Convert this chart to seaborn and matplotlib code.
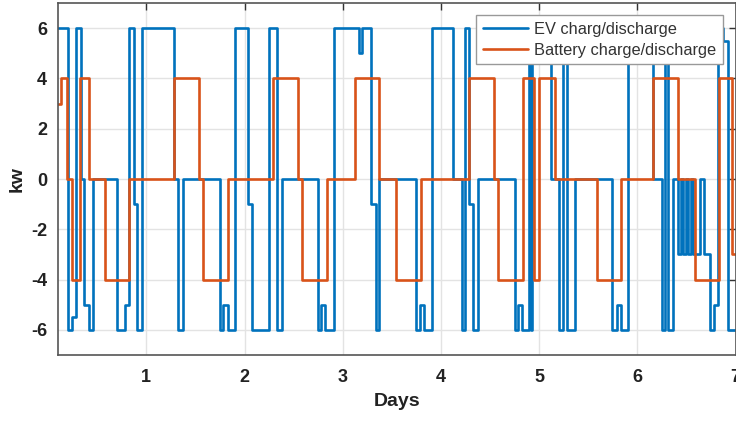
import matplotlib
matplotlib.use("Agg")
import matplotlib.pyplot as plt
import seaborn as sns
import pandas as pd

# EV charge/discharge (step changes: day, kW)
ev_days = [0.100, 0.205, 0.242, 0.283, 0.331, 0.368, 0.416, 0.453, 0.701, 0.782,
           0.826, 0.877, 0.908, 0.952, 1.285, 1.325, 1.376, 1.750, 1.784, 1.835,
           1.903, 2.038, 2.073, 2.252, 2.328, 2.379, 2.745, 2.779, 2.820, 2.914,
           3.166, 3.200, 3.288, 3.339, 3.373, 3.744, 3.787, 3.828, 3.913, 4.126,
           4.212, 4.246, 4.290, 4.330, 4.375, 4.755, 4.789, 4.826, 4.901, 4.918,
           4.931, 5.122, 5.206, 5.247, 5.282, 5.366, 5.740, 5.791, 5.830, 5.909,
           6.161, 6.249, 6.283, 6.317, 6.367, 6.417, 6.442, 6.468, 6.493, 6.519,
           6.544, 6.570, 6.639, 6.675, 6.736, 6.785, 6.820, 6.874, 6.925, 7.000]
ev_kw = [6, -6, -5.5, 6, 0, -5, -6, 0, -6, -5,
         6, -1, -6, 6, 0, -6, 0, -6, -5, -6,
         6, -1, -6, 6, -6, 0, -6, -5, -6, 6,
         5, 6, -1, -6, 0, -6, -5, -6, 6, 0,
         -6, 6, -1, -6, 0, -6, -5, -6, 6, -6,
         6, 0, -6, 6, -6, 0, -6, -5, -6, 6,
         0, -6, 6, -6, 0, -3, 0, -3, 0, -3,
         0, -3, 0, -3, -6, -5, 6, 5.5, -6, -6]

# Battery charge/discharge (step changes: day, kW)
batt_days = [0.100, 0.130, 0.188, 0.239, 0.324, 0.419, 0.579, 0.826, 1.285, 1.539,
             1.574, 1.835, 2.293, 2.548, 2.582, 2.837, 3.125, 3.373, 3.543, 3.794,
             4.286, 4.541, 4.582, 4.837, 4.943, 4.999, 5.162, 5.593, 5.832, 6.164,
             6.415, 6.589, 6.833, 6.960, 7.000]
batt_kw = [3, 4, 0, -4, 4, 0, -4, 0, 4, 0,
           -4, 0, 4, 0, -4, 0, 4, 0, -4, 0,
           4, 0, -4, 4, -4, 4, 0, -4, 0, 4,
           0, -4, 4, -3, -3]

x_ticks = [1, 2, 3, 4, 5, 6, 7]
y_ticks = [-6, -4, -2, 0, 2, 4, 6]
labels = ["EV charg/discharge", "Battery charge/discharge"]

sns.set_theme(style="whitegrid")
plt.rcParams["font.family"] = ["Liberation Sans", "DejaVu Sans"]

fig = plt.figure(figsize=(7.36, 4.24), dpi=100)
ax = fig.add_axes([58 / 736, 1 - 355 / 424, (735.5 - 58) / 736, (355 - 3) / 424])

ev_df = pd.DataFrame({"day": ev_days, "kw": ev_kw})
batt_df = pd.DataFrame({"day": batt_days, "kw": batt_kw})

sns.lineplot(data=ev_df, x="day", y="kw", ax=ax, color="#0072BD", lw=1.9,
             drawstyle="steps-post", sort=False, estimator=None, label=labels[0])
sns.lineplot(data=batt_df, x="day", y="kw", ax=ax, color="#D95319", lw=1.9,
             drawstyle="steps-post", sort=False, estimator=None, label=labels[1])

ax.set_xlim(0.1, 7)
ax.set_ylim(-7, 7)
ax.set_xticks(x_ticks)
ax.set_yticks(y_ticks)
ax.set_xticklabels([str(t) for t in x_ticks])
ax.set_yticklabels([str(t) for t in y_ticks])
ax.grid(True, color="#e3e3e3", lw=1.0)
ax.tick_params(direction="in", length=5, width=1, color="#333333",
               top=True, right=True, labelsize=13, labelcolor="#222222")
ax.tick_params(axis="x", pad=10)
ax.tick_params(axis="y", pad=8)
for lab in ax.get_xticklabels() + ax.get_yticklabels():
    lab.set_fontweight("bold")
for sp in ax.spines.values():
    sp.set_color("#555555")
    sp.set_linewidth(1.2)

ax.set_xlabel("Days", fontsize=14, fontweight="bold", color="#222222", labelpad=5)
ax.set_ylabel("kw", fontsize=14, fontweight="bold", color="#222222", labelpad=4)

leg = ax.legend(loc="upper right", bbox_to_anchor=((723 - 58) / 677.5, (355 - 15) / 352),
                borderaxespad=0, fontsize=11.8,
                frameon=True, fancybox=False, framealpha=1, edgecolor="#999999",
                handlelength=2.75, borderpad=0.4, labelspacing=0.37, handletextpad=0.4)
leg.get_frame().set_linewidth(1.0)
for t in leg.get_texts():
    t.set_color("#333333")

fig.savefig("out.png", dpi=100)
